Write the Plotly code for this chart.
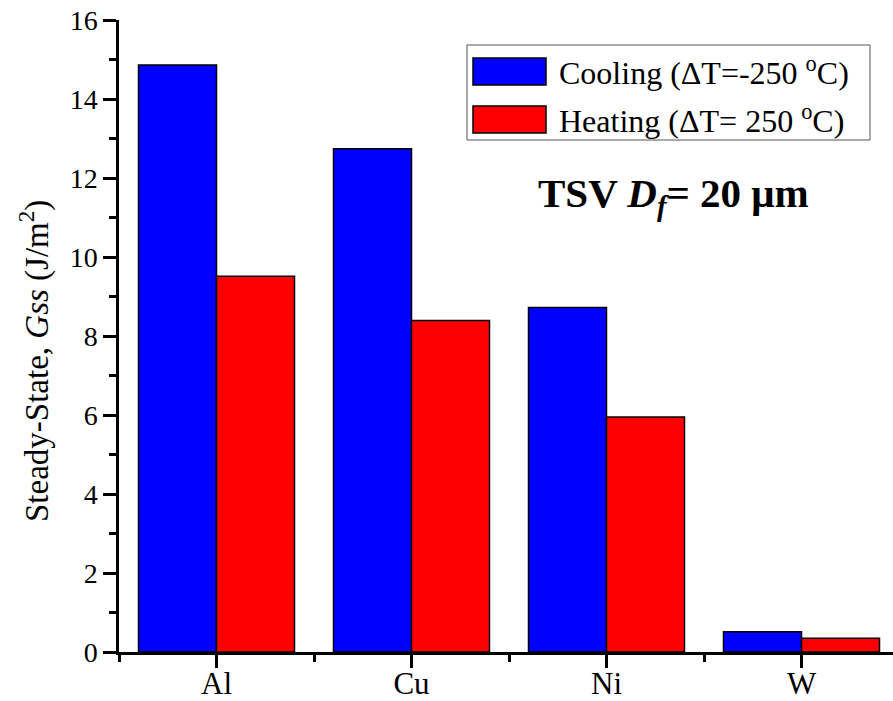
import plotly.graph_objects as go

metals = ["Al", "Cu", "Ni", "W"]
cooling = [14.86, 12.74, 8.72, 0.51]
heating = [9.51, 8.39, 5.95, 0.35]
cooling_name = "Cooling (ΔT=-250 <sup>o</sup>C)"
heating_name = "Heating (ΔT= 250 <sup>o</sup>C)"
yticks = [0, 2, 4, 6, 8, 10, 12, 14, 16]

FONT = "Liberation Serif, Times New Roman, serif"
xpos = list(range(len(metals)))

W, H = 905, 701
ML, MR, MT, MB = 119, 6, 20, 49
PW = W - ML - MR
PH = H - MT - MB

def px(x):
    return (x - ML) / PW

def py(y):
    return (H - MB - y) / PH

fig = go.Figure()
fig.add_trace(go.Bar(x=xpos, y=cooling, name=cooling_name, marker=dict(color="#0000ff", line=dict(color="black", width=1.5)), showlegend=False))
fig.add_trace(go.Bar(x=xpos, y=heating, name=heating_name, marker=dict(color="#ff0000", line=dict(color="black", width=1.5)), showlegend=False))

axis_common = dict(showgrid=False, zeroline=False, showline=True, linecolor="black", linewidth=2.5,
                   tickcolor="black", tickwidth=2.5, automargin=False)

fig.update_layout(
    width=W, height=H,
    margin=dict(l=ML, r=MR, t=MT, b=MB, pad=0, autoexpand=False),
    paper_bgcolor="white", plot_bgcolor="white",
    barmode="group", bargap=0.2, bargroupgap=0,
    font=dict(family=FONT, color="black", size=28),
    showlegend=False,
    xaxis=dict(range=[-0.5, 3.5], tickvals=xpos, ticktext=metals, ticks="outside", ticklen=13,
               minor=dict(tickvals=[-0.5, 0.5, 1.5, 2.5, 3.5], ticks="outside", ticklen=7, tickcolor="black", tickwidth=2.5),
               tickfont=dict(size=31), ticklabelstandoff=-11, **axis_common),
    yaxis=dict(range=[0, 16], tickvals=yticks, ticks="outside", ticklen=13,
               minor=dict(dtick=1, ticks="outside", ticklen=7, tickcolor="black", tickwidth=2.5),
               tickfont=dict(size=28), ticklabelstandoff=0, **axis_common),
    xaxis2=dict(overlaying="x", side="top", anchor="y", range=[0, 5], dtick=1, ticks="inside", ticklen=12,
                minor=dict(dtick=0.5, ticks="inside", ticklen=5, tickcolor="black", tickwidth=2.5),
                showticklabels=False, **axis_common),
    yaxis2=dict(overlaying="y", side="right", anchor="x", range=[0, 16], dtick=2, ticks="inside", ticklen=13,
                minor=dict(dtick=1, ticks="inside", ticklen=7, tickcolor="black", tickwidth=2.5),
                showticklabels=False, **axis_common),
)

# y-axis title
fig.add_annotation(xref="paper", yref="paper", x=px(34), y=py(361), text="Steady-State, <i>Gss</i> (J/m<sup>2</sup>)",
                   textangle=-90, showarrow=False, font=dict(size=33), xanchor="center", yanchor="middle")

# inset label
fig.add_annotation(xref="paper", yref="paper", x=px(673), y=py(196),
                   text="<b>TSV <i>D</i><sub><i>f</i></sub>= 20 μm</b>", showarrow=False,
                   font=dict(size=41), xanchor="center", yanchor="middle")

# manual legend
fig.add_shape(type="rect", xref="paper", yref="paper", x0=px(467), x1=px(870), y0=py(140), y1=py(45),
              line=dict(color="#555555", width=1), fillcolor="white", layer="below")
fig.add_shape(type="rect", xref="paper", yref="paper", x0=px(473), x1=px(546), y0=py(85), y1=py(58),
              line=dict(color="black", width=1.5), fillcolor="#0000ff")
fig.add_shape(type="rect", xref="paper", yref="paper", x0=px(473), x1=px(546), y0=py(133), y1=py(106),
              line=dict(color="black", width=1.5), fillcolor="#ff0000")
fig.add_annotation(xref="paper", yref="paper", x=px(557), y=py(71), text=cooling_name, showarrow=False,
                   xanchor="left", yanchor="middle", font=dict(size=32))
fig.add_annotation(xref="paper", yref="paper", x=px(557), y=py(119), text=heating_name, showarrow=False,
                   xanchor="left", yanchor="middle", font=dict(size=32))

fig.write_html("out.html", config={"displayModeBar": False},
               post_script="document.body.style.margin='0';document.documentElement.style.overflow='hidden';document.body.style.overflow='hidden';")
